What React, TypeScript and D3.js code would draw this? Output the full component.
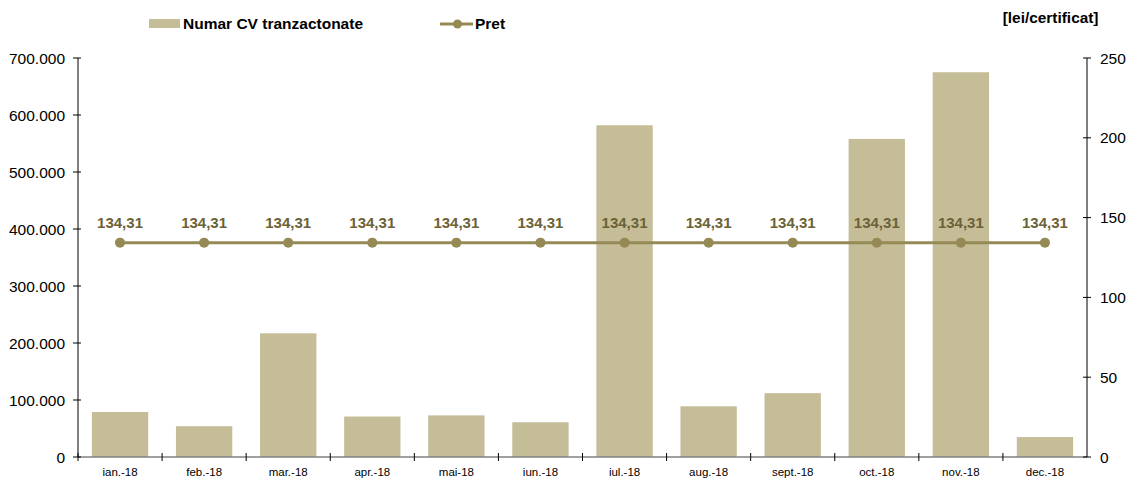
import React from "react";
import * as d3 from "d3";

const categories = ["ian.-18","feb.-18","mar.-18","apr.-18","mai-18","iun.-18","iul.-18","aug.-18","sept.-18","oct.-18","nov.-18","dec.-18"];
const volumes = [79000, 54000, 217000, 71000, 73000, 61000, 582000, 89000, 112000, 558000, 675000, 35000];
const prices = [134.31,134.31,134.31,134.31,134.31,134.31,134.31,134.31,134.31,134.31,134.31,134.31];
const leftTicks = [0,100000,200000,300000,400000,500000,600000,700000];
const rightTicks = [0,50,100,150,200,250];

const W = 1132, H = 479;
const M = { left: 78, right: 1087, top: 58, bottom: 457 };
const BAR = "#c5bd97";
const LINE = "#958a55";
const LABEL = "#6b6236";
const FONT = "Arial, 'Liberation Sans', sans-serif";

export default function App() {
  const x = d3.scaleBand().domain(categories).range([M.left, M.right]).paddingInner(0.33).paddingOuter(0.165);
  const xb = d3.scaleBand().domain(categories).range([M.left, M.right]);
  const yL = d3.scaleLinear().domain([0, 700000]).range([M.bottom, M.top]);
  const yR = d3.scaleLinear().domain([0, 250]).range([M.bottom, M.top]);
  const fmtL = (v: number) => d3.format(",")(v).replace(/,/g, ".");
  const fmtP = (v: number) => v.toFixed(2).replace(".", ",");
  const cx = (c: string) => (xb(c) as number) + xb.bandwidth() / 2;
  const line = d3.line<number>().x((_, i) => cx(categories[i])).y(d => yR(d));

  return (
    <svg width={W} height={H} style={{ position: "absolute", left: 0, top: 0, fontFamily: FONT }}>
      <rect width={W} height={H} fill="#fff" />
      {/* bars */}
      {volumes.map((v, i) => (
        <rect key={i} x={x(categories[i])} y={yL(v)} width={x.bandwidth()} height={M.bottom - yL(v)} fill={BAR} />
      ))}
      {/* x axis */}
      <line x1={M.left} x2={M.right} y1={M.bottom} y2={M.bottom} stroke="#808080" strokeWidth={1.5} />
      {categories.map((c, i) => (
        <line key={"xt" + i} x1={(xb(c) as number)} x2={(xb(c) as number)} y1={M.bottom - 4} y2={M.bottom + 4} stroke="#000" />
      ))}
      {categories.map((c, i) => (
        <text key={"xl" + i} x={cx(c)} y={M.bottom + 19} fontSize={11.5} textAnchor="middle" fill="#000">{c}</text>
      ))}
      {/* left axis */}
      <line x1={M.left} x2={M.left} y1={M.top} y2={M.bottom} stroke="#000" />
      {leftTicks.map((t, i) => (
        <g key={"lt" + i}>
          <line x1={M.left - 5} x2={M.left + 3} y1={yL(t)} y2={yL(t)} stroke="#000" />
          <text x={M.left - 13} y={yL(t) + 5.5} fontSize={15.5} textAnchor="end" fill="#000">{fmtL(t)}</text>
        </g>
      ))}
      {/* right axis */}
      <line x1={M.right} x2={M.right} y1={M.top} y2={M.bottom} stroke="#000" />
      {rightTicks.map((t, i) => (
        <g key={"rt" + i}>
          <line x1={M.right - 4} x2={M.right + 4} y1={yR(t)} y2={yR(t)} stroke="#000" />
          <text x={M.right + 13} y={yR(t) + 5.5} fontSize={15.5} textAnchor="start" fill="#000">{t}</text>
        </g>
      ))}
      {/* line */}
      <path d={line(prices) as string} fill="none" stroke={LINE} strokeWidth={3} />
      {prices.map((p, i) => (
        <g key={"p" + i}>
          <circle cx={cx(categories[i])} cy={yR(p)} r={5} fill={LINE} />
          <text x={cx(categories[i])} y={yR(p) - 15} fontSize={15} fontWeight="bold" textAnchor="middle" fill={LABEL}>{fmtP(p)}</text>
        </g>
      ))}
      {/* legend */}
      <rect x={149} y={19} width={31} height={9} fill={BAR} />
      <text x={183} y={28.5} fontSize={15.5} fontWeight="bold" fill="#000">Numar CV tranzactonate</text>
      <line x1={440} x2={473} y1={24} y2={24} stroke={LINE} strokeWidth={3} />
      <circle cx={457.5} cy={24} r={4.5} fill={LINE} />
      <text x={475} y={28.5} fontSize={15.5} fontWeight="bold" fill="#000">Pret</text>
      <text x={1098.5} y={23} fontSize={15.4} fontWeight="bold" textAnchor="end" fill="#000">[lei/certificat]</text>
    </svg>
  );
}
